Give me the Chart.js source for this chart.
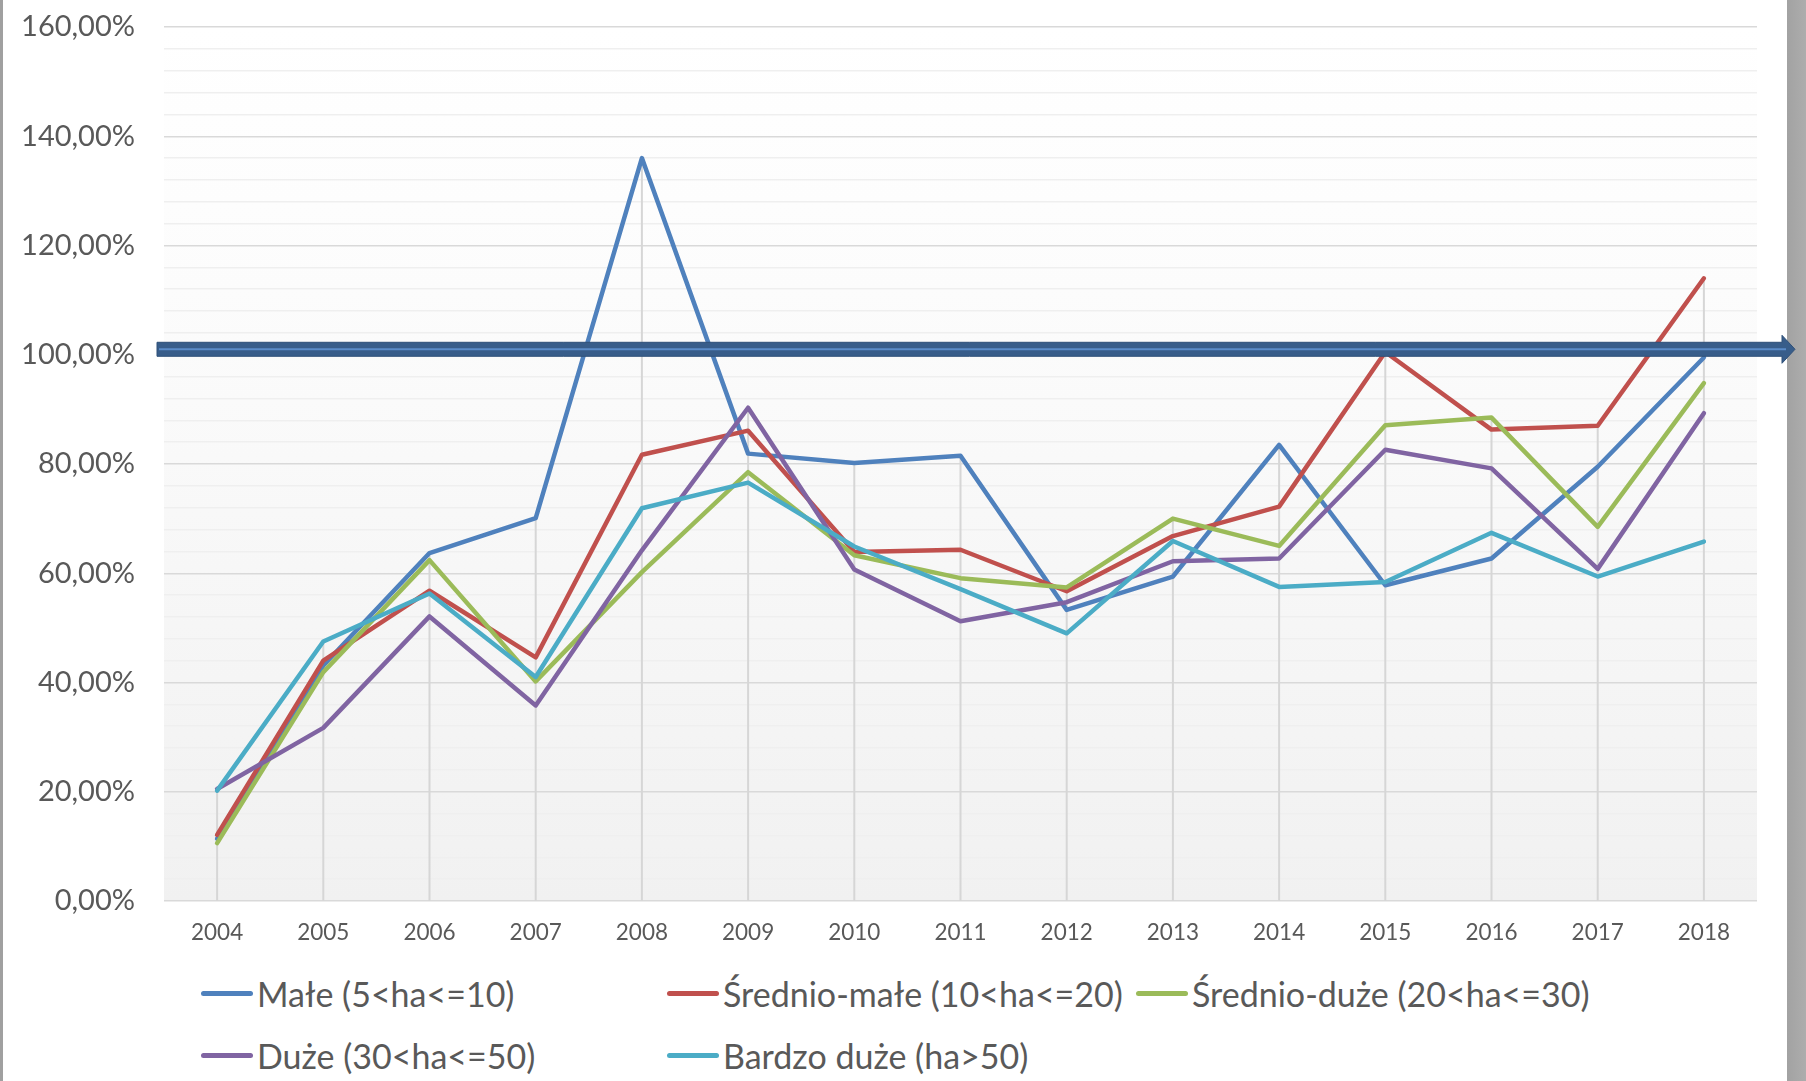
<!DOCTYPE html>
<html>
<head>
<meta charset="utf-8">
<script src="https://cdn.jsdelivr.net/npm/chart.js@4.4.0/dist/chart.umd.min.js"></script>
<style>
html, body { margin: 0; padding: 0; background: #fff; }
#page { position: relative; width: 1806px; height: 1081px; overflow: hidden; }
#leftEdge { position: absolute; left: 0; top: 0; width: 3px; height: 1081px; background: #a0a0a0; }
#rightEdge { position: absolute; left: 1787px; top: 0; width: 19px; height: 1081px; background: linear-gradient(to right, #a2a2a2, #adadad); }
#chartBox { position: absolute; left: 0; top: 0; width: 1806px; height: 960px; }
#legend { position: absolute; left: 0; top: 0; font-family: Lato, sans-serif; font-size: 34px; color: #595959; }
.item { position: absolute; display: flex; align-items: center; height: 40px; white-space: nowrap; }
.swatch { width: 52px; height: 5px; border-radius: 3px; margin-right: 4px; }
</style>
</head>
<body>
<div id="page">
  <div id="leftEdge"></div>
  <div id="rightEdge"></div>
  <div id="chartBox"><canvas id="lineChart" width="1806" height="960"></canvas></div>
  <div id="legend"></div>
</div>
<script>
var years = ['2004', '2005', '2006', '2007', '2008', '2009', '2010', '2011', '2012', '2013', '2014', '2015', '2016', '2017', '2018'];

var male        = [11.4, 43.1, 63.7, 70.1, 136.0, 81.9, 80.2, 81.5, 53.3, 59.4, 83.5, 57.8, 62.7, 79.5, 99.5];
var srednioMale = [12.1, 44.0, 56.8, 44.6, 81.7, 86.1, 63.9, 64.3, 56.7, 66.8, 72.2, 100.5, 86.3, 87.0, 114.0];
var srednioDuze = [10.6, 41.9, 62.4, 40.2, 60.2, 78.5, 63.3, 59.1, 57.4, 70.0, 65.0, 87.1, 88.5, 68.5, 94.8];
var duze        = [20.5, 31.7, 52.1, 35.8, 64.2, 90.3, 60.7, 51.2, 54.7, 62.2, 62.7, 82.6, 79.2, 60.8, 89.3];
var bardzoDuze  = [20.2, 47.5, 56.3, 41.0, 71.9, 76.6, 64.9, 57.1, 49.0, 65.9, 57.5, 58.4, 67.4, 59.4, 65.8];

var seriesNames = ['Małe (5<ha<=10)', 'Średnio-małe (10<ha<=20)', 'Średnio-duże (20<ha<=30)', 'Duże (30<ha<=50)', 'Bardzo duże (ha>50)'];
var seriesData = [male, srednioMale, srednioDuze, duze, bardzoDuze];
var seriesColors = ['#4f81bd', '#c0504d', '#9bbb59', '#8064a2', '#4bacc6'];

var yTicks = [0, 20, 40, 60, 80, 100, 120, 140, 160];
var arrowLevel = 101;

// legend slots (px) in the reference layout
var legendSlots = [[201, 973], [667, 973], [1136, 973], [201, 1035], [667, 1035]];

function fmtPct(v) {
    return v.toFixed(2).replace('.', ',') + '%';
}

var plotBackground = {
    id: 'plotBackground',
    beforeDraw: function (chart) {
        var a = chart.chartArea, ctx = chart.ctx;
        var g = ctx.createLinearGradient(0, a.top, 0, a.bottom);
        g.addColorStop(0, '#ffffff');
        g.addColorStop(0.3, '#fcfcfc');
        g.addColorStop(1, '#f1f1f1');
        ctx.save();
        ctx.fillStyle = g;
        ctx.fillRect(a.left, a.top, a.right - a.left, a.bottom - a.top);
        ctx.restore();
    }
};

// Excel-style drop lines from the highest point of each year to the axis
var dropLines = {
    id: 'dropLines',
    beforeDatasetsDraw: function (chart) {
        var xs = chart.scales.x, ys = chart.scales.y, ctx = chart.ctx;
        ctx.save();
        ctx.strokeStyle = '#d6d6d6';
        ctx.lineWidth = 2;
        years.forEach(function (y, i) {
            var top = Math.max.apply(null, seriesData.map(function (s) { return s[i]; }));
            var x = xs.getPixelForValue(i);
            ctx.beginPath();
            ctx.moveTo(x, ys.getPixelForValue(top));
            ctx.lineTo(x, ys.getPixelForValue(0));
            ctx.stroke();
        });
        ctx.restore();
    }
};

var levelArrow = {
    id: 'levelArrow',
    afterDatasetsDraw: function (chart) {
        var ctx = chart.ctx, a = chart.chartArea;
        var y = chart.scales.y.getPixelForValue(arrowLevel);
        var x0 = a.left - 7, x1 = a.right + 25, tip = a.right + 38;
        var h = 7, hh = 14;
        ctx.save();
        ctx.beginPath();
        ctx.moveTo(x0, y - h);
        ctx.lineTo(x1, y - h);
        ctx.lineTo(x1, y - hh);
        ctx.lineTo(tip, y);
        ctx.lineTo(x1, y + hh);
        ctx.lineTo(x1, y + h);
        ctx.lineTo(x0, y + h);
        ctx.closePath();
        ctx.fillStyle = '#385d8a';
        ctx.fill();
        ctx.strokeStyle = '#2f5078';
        ctx.lineWidth = 1;
        ctx.stroke();
        ctx.beginPath();
        ctx.moveTo(x0 + 2, y);
        ctx.lineTo(x1 + 4, y);
        ctx.strokeStyle = '#5a8bc8';
        ctx.lineWidth = 2;
        ctx.stroke();
        ctx.restore();
    }
};

var ctx = document.getElementById('lineChart').getContext('2d');
var myChart = new Chart(ctx, {
    type: 'line',
    data: {
        labels: years,
        datasets: seriesData.map(function (d, i) {
            return {
                label: seriesNames[i],
                data: d,
                borderColor: seriesColors[i],
                backgroundColor: seriesColors[i],
                borderWidth: 4.5,
                pointRadius: 0,
                tension: 0,
                fill: false,
                borderCapStyle: 'round',
                borderJoinStyle: 'round',
                order: seriesData.length - i
            };
        })
    },
    options: {
        responsive: false,
        animation: false,
        devicePixelRatio: 1,
        layout: { padding: { left: 0, right: 49, top: 27, bottom: 0 } },
        plugins: {
            legend: { display: false },
            tooltip: { enabled: false }
        },
        scales: {
            x: {
                offset: true,
                grid: { display: false, drawTicks: false },
                border: { display: false },
                ticks: {
                    color: '#595959',
                    font: { family: 'Lato', size: 22.5 },
                    padding: 18,
                    maxRotation: 0
                },
                afterFit: function (s) { s.height = 59; }
            },
            y: {
                min: 0,
                max: 160,
                ticks: {
                    stepSize: 4,
                    color: '#595959',
                    font: { family: 'Lato', size: 29 },
                    padding: 29,
                    autoSkip: false,
                    callback: function (v) {
                        var r = Math.round(v);
                        return yTicks.indexOf(r) >= 0 ? fmtPct(r) : '';
                    }
                },
                grid: {
                    drawTicks: false,
                    lineWidth: 1.5,
                    color: function (c) {
                        var r = Math.round(c.tick.value);
                        return yTicks.indexOf(r) >= 0 ? '#d9d9d9' : '#efefef';
                    }
                },
                border: { display: false },
                afterFit: function (s) {
                    s.width = 164;
                    s.paddingTop = 0;
                    s.paddingBottom = 0;
                }
            }
        }
    },
    plugins: [plotBackground, dropLines, levelArrow]
});

// legend
var legendEl = document.getElementById('legend');
seriesNames.forEach(function (name, i) {
    var item = document.createElement('div');
    item.className = 'item';
    item.style.left = legendSlots[i][0] + 'px';
    item.style.top = legendSlots[i][1] + 'px';
    var sw = document.createElement('span');
    sw.className = 'swatch';
    sw.style.background = seriesColors[i];
    var tx = document.createElement('span');
    tx.textContent = name;
    item.appendChild(sw);
    item.appendChild(tx);
    legendEl.appendChild(item);
});
</script>
</body>
</html>
